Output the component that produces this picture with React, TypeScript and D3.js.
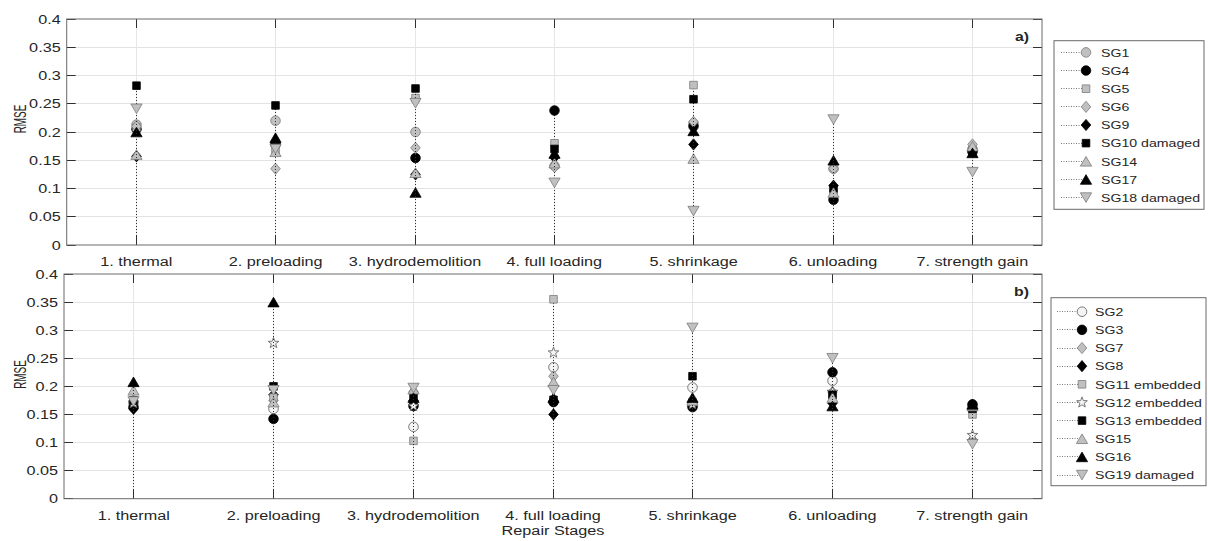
import React from "react";
import * as d3 from "d3";

// Repair stages along the x axis
const stages = [
  "1. thermal",
  "2. preloading",
  "3. hydrodemolition",
  "4. full loading",
  "5. shrinkage",
  "6. unloading",
  "7. strength gain",
];
const yTicks = [0, 0.05, 0.1, 0.15, 0.2, 0.25, 0.3, 0.35, 0.4];
const yTickLabels = ["0", "0.05", "0.1", "0.15", "0.2", "0.25", "0.3", "0.35", "0.4"];

// Panel a) RMSE per stage
const sg1 = [0.213, 0.22, 0.2, 0.14, 0.215, 0.135, 0.17];
const sg4 = [0.205, 0.178, 0.154, 0.238, 0.21, 0.08, 0.165];
const sg5 = [0.208, 0.168, 0.26, 0.18, 0.283, 0.092, 0.168];
const sg6 = [0.21, 0.135, 0.172, 0.138, 0.218, 0.135, 0.178];
const sg9 = [0.157, 0.18, 0.125, 0.155, 0.178, 0.105, 0.165];
const sg10 = [0.282, 0.247, 0.277, 0.17, 0.258, 0.1, 0.165];
const sg14 = [0.16, 0.165, 0.128, 0.145, 0.153, 0.093, 0.175];
const sg17 = [0.2, 0.19, 0.093, 0.162, 0.202, 0.15, 0.163];
const sg18 = [0.241, 0.17, 0.251, 0.11, 0.06, 0.222, 0.129];

// Panel b) RMSE per stage
const sg2 = [0.17, 0.16, 0.128, 0.234, 0.198, 0.21, 0.165];
const sg3 = [0.163, 0.142, 0.165, 0.172, 0.163, 0.225, 0.168];
const sg7 = [0.175, 0.175, 0.19, 0.218, 0.17, 0.19, 0.105];
const sg8 = [0.16, 0.185, 0.175, 0.15, 0.165, 0.17, 0.16];
const sg11 = [0.175, 0.18, 0.103, 0.355, 0.172, 0.185, 0.15];
const sg12 = [0.17, 0.277, 0.165, 0.26, 0.168, 0.19, 0.113];
const sg13 = [0.175, 0.2, 0.185, 0.176, 0.218, 0.185, 0.16];
const sg15 = [0.193, 0.172, 0.195, 0.208, 0.175, 0.18, 0.165];
const sg16 = [0.208, 0.35, 0.18, 0.18, 0.18, 0.165, 0.168];
const sg19 = [0.173, 0.193, 0.197, 0.193, 0.304, 0.25, 0.097];

type Shape = "circle" | "square" | "diamond" | "up" | "down" | "star";
type Tone = "gray" | "black" | "white";
interface Series { name: string; values: number[]; shape: Shape; tone: Tone; }

const seriesA: Series[] = [
  { name: "SG1", values: sg1, shape: "circle", tone: "gray" },
  { name: "SG4", values: sg4, shape: "circle", tone: "black" },
  { name: "SG5", values: sg5, shape: "square", tone: "gray" },
  { name: "SG6", values: sg6, shape: "diamond", tone: "gray" },
  { name: "SG9", values: sg9, shape: "diamond", tone: "black" },
  { name: "SG10 damaged", values: sg10, shape: "square", tone: "black" },
  { name: "SG14", values: sg14, shape: "up", tone: "gray" },
  { name: "SG17", values: sg17, shape: "up", tone: "black" },
  { name: "SG18 damaged", values: sg18, shape: "down", tone: "gray" },
];

const seriesB: Series[] = [
  { name: "SG2", values: sg2, shape: "circle", tone: "white" },
  { name: "SG3", values: sg3, shape: "circle", tone: "black" },
  { name: "SG7", values: sg7, shape: "diamond", tone: "gray" },
  { name: "SG8", values: sg8, shape: "diamond", tone: "black" },
  { name: "SG11 embedded", values: sg11, shape: "square", tone: "gray" },
  { name: "SG12 embedded", values: sg12, shape: "star", tone: "white" },
  { name: "SG13 embedded", values: sg13, shape: "square", tone: "black" },
  { name: "SG15", values: sg15, shape: "up", tone: "gray" },
  { name: "SG16", values: sg16, shape: "up", tone: "black" },
  { name: "SG19 damaged", values: sg19, shape: "down", tone: "gray" },
];

// Marker geometry as d3 symbol types (size is ignored; dimensions fixed in px)
const symbolTypes: Record<Shape, d3.SymbolType> = {
  circle: {
    draw(ctx) {
      const r = 4.8;
      ctx.moveTo(r, 0);
      ctx.arc(0, 0, r, 0, 2 * Math.PI);
    },
  },
  square: {
    draw(ctx) {
      const h = 3.8;
      ctx.moveTo(-h, -h);
      ctx.lineTo(h, -h);
      ctx.lineTo(h, h);
      ctx.lineTo(-h, h);
      ctx.closePath();
    },
  },
  diamond: {
    draw(ctx) {
      const w = 4.8, h = 5.6;
      ctx.moveTo(0, -h);
      ctx.lineTo(w, 0);
      ctx.lineTo(0, h);
      ctx.lineTo(-w, 0);
      ctx.closePath();
    },
  },
  up: {
    draw(ctx) {
      const w = 5.6, h = 4.8;
      ctx.moveTo(0, -h);
      ctx.lineTo(w, h);
      ctx.lineTo(-w, h);
      ctx.closePath();
    },
  },
  down: {
    draw(ctx) {
      const w = 5.6, h = 4.8;
      ctx.moveTo(0, h);
      ctx.lineTo(w, -h);
      ctx.lineTo(-w, -h);
      ctx.closePath();
    },
  },
  star: {
    draw(ctx) {
      const ro = 5.6, ri = 2.3;
      for (let i = 0; i < 10; i++) {
        const r = i % 2 === 0 ? ro : ri;
        const a = -Math.PI / 2 + (i * Math.PI) / 5;
        const px = r * Math.cos(a), py = r * Math.sin(a);
        if (i === 0) ctx.moveTo(px, py);
        else ctx.lineTo(px, py);
      }
      ctx.closePath();
    },
  },
};

const tones: Record<Tone, { fill: string; stroke: string }> = {
  gray: { fill: "#c0c0c0", stroke: "#7a7a7a" },
  black: { fill: "#000000", stroke: "#000000" },
  white: { fill: "#f4f4f4", stroke: "#5a5a5a" },
};

const FONT = "'Liberation Sans', Arial, Helvetica, sans-serif";
const TEXT = "#262626";
const SX = 1.22;

// snap a coordinate to a pixel centre so 1px lines stay crisp
const px = (v: number) => Math.round(v - 0.5) + 0.5;

function Label(props: {
  x: number; y: number; anchor?: "start" | "middle" | "end"; size: number;
  bold?: boolean; children: React.ReactNode;
}) {
  const { x, y, anchor = "start", size, bold, children } = props;
  return (
    <text
      transform={`translate(${x},${y}) scale(${SX},1)`}
      textAnchor={anchor}
      fontSize={size}
      fontWeight={bold ? "bold" : "normal"}
      fontFamily={FONT}
      fill={TEXT}
    >
      {children}
    </text>
  );
}

interface Box { left: number; right: number; top: number; bottom: number; }

function Panel(props: {
  box: Box; series: Series[]; tag: string; legend: Box & { rowTop: number; lineX: number; textX: number };
  ylabelY: number; xlabel?: string;
}) {
  const { box, series, tag, legend, ylabelY, xlabel } = props;
  const x = d3.scaleLinear().domain([0.5, 7.5]).range([box.left, box.right]);
  const y = d3.scaleLinear().domain([0, 0.4]).range([box.bottom, box.top]);
  const sym = d3.symbol();
  const tick = 9;
  const inner = yTicks.slice(1, -1);
  const rowStep = 18.15;
  const sx = (i: number) => px(x(i + 1));

  return (
    <g>
      {/* grid */}
      {inner.map((t) => (
        <line key={"gy" + t} x1={box.left} x2={box.right} y1={px(y(t))} y2={px(y(t))} stroke="#e3e3e3" strokeWidth={1} />
      ))}
      {stages.map((_, i) => (
        <line key={"gx" + i} x1={sx(i)} x2={sx(i)} y1={box.top} y2={box.bottom} stroke="#e6e6e6" strokeWidth={1} />
      ))}

      {/* stems and markers, one series after another */}
      {series.map((s) => (
        <g key={s.name}>
          {s.values.map((v, i) => (
            <line
              key={"st" + i}
              x1={sx(i)}
              x2={sx(i)}
              y1={Math.round(y(0))}
              y2={y(v)}
              stroke="#303030"
              strokeWidth={1}
              strokeDasharray="1 2"
              shapeRendering="crispEdges"
            />
          ))}
          {s.values.map((v, i) => (
            <path
              key={"mk" + i}
              d={sym.type(symbolTypes[s.shape])() as string}
              transform={`translate(${sx(i)},${y(v)})`}
              fill={tones[s.tone].fill}
              stroke={tones[s.tone].stroke}
              strokeWidth={0.8}
            />
          ))}
        </g>
      ))}

      {/* ticks */}
      {yTicks.map((t) => (
        <g key={"ty" + t}>
          <line x1={box.left} x2={box.left + tick} y1={px(y(t))} y2={px(y(t))} stroke="#303030" />
          <line x1={box.right} x2={box.right - tick} y1={px(y(t))} y2={px(y(t))} stroke="#303030" />
        </g>
      ))}
      {stages.map((_, i) => (
        <g key={"tx" + i}>
          <line x1={sx(i)} x2={sx(i)} y1={box.bottom} y2={box.bottom - tick} stroke="#303030" />
          <line x1={sx(i)} x2={sx(i)} y1={box.top} y2={box.top + tick} stroke="#303030" />
        </g>
      ))}

      {/* axes box */}
      <rect
        x={box.left}
        y={box.top}
        width={box.right - box.left}
        height={box.bottom - box.top}
        fill="none"
        stroke="#6a6a6a"
        strokeWidth={1}
      />

      {/* tick labels */}
      {yTicks.map((t, i) => (
        <Label key={"ly" + t} x={box.left - 6} y={y(t) + 4.7} anchor="end" size={13.3}>
          {yTickLabels[i]}
        </Label>
      ))}
      {stages.map((s, i) => (
        <Label key={"lx" + i} x={x(i + 1)} y={box.bottom + 21.3} anchor="middle" size={13.3}>
          {s}
        </Label>
      ))}

      {/* y label */}
      <text
        transform={`translate(26,${ylabelY}) rotate(-90) scale(0.76,1.25)`}
        textAnchor="middle"
        fontSize={13}
        fontFamily={FONT}
        fill={TEXT}
      >
        RMSE
      </text>

      {xlabel && (
        <Label x={x(4)} y={box.bottom + 36} anchor="middle" size={13.3}>
          {xlabel}
        </Label>
      )}

      {/* panel tag */}
      <Label x={box.right - 13} y={box.top + 22} anchor="end" size={13} bold>
        {tag}
      </Label>

      {/* legend */}
      <rect
        x={legend.left}
        y={legend.top}
        width={legend.right - legend.left}
        height={legend.bottom - legend.top}
        fill="#ffffff"
        stroke="#6a6a6a"
        strokeWidth={1}
      />
      {series.map((s, i) => {
        const cy = legend.rowTop + i * rowStep;
        return (
          <g key={"lg" + s.name}>
            <line
              x1={legend.lineX}
              x2={legend.lineX + 21}
              y1={px(cy)}
              y2={px(cy)}
              stroke="#777"
              strokeWidth={1}
              strokeDasharray="1 1.5"
            />
            <path
              d={sym.type(symbolTypes[s.shape])() as string}
              transform={`translate(${legend.lineX + 25},${cy})`}
              fill={tones[s.tone].fill}
              stroke={tones[s.tone].stroke}
              strokeWidth={0.8}
            />
            <Label x={legend.textX} y={cy + 4.2} size={11.6}>
              {s.name}
            </Label>
          </g>
        );
      })}
    </g>
  );
}

export default function App() {
  return (
    <svg
      width={1208}
      height={541}
      viewBox="0 0 1208 541"
      style={{ position: "absolute", left: 0, top: 0, background: "#ffffff" }}
    >
      <rect x={0} y={0} width={1208} height={541} fill="#ffffff" />
      <Panel
        box={{ left: 66.7, right: 1042, top: 19, bottom: 245 }}
        series={seriesA}
        tag="a)"
        ylabelY={119}
        legend={{ left: 1054, right: 1204, top: 40.7, bottom: 209.3, rowTop: 52.4, lineX: 1061, textX: 1101 }}
      />
      <Panel
        box={{ left: 64, right: 1042, top: 274, bottom: 498.7 }}
        series={seriesB}
        tag="b)"
        ylabelY={374.5}
        xlabel="Repair Stages"
        legend={{ left: 1051, right: 1206, top: 297.7, bottom: 485.7, rowTop: 311.7, lineX: 1057, textX: 1095 }}
      />
    </svg>
  );
}
